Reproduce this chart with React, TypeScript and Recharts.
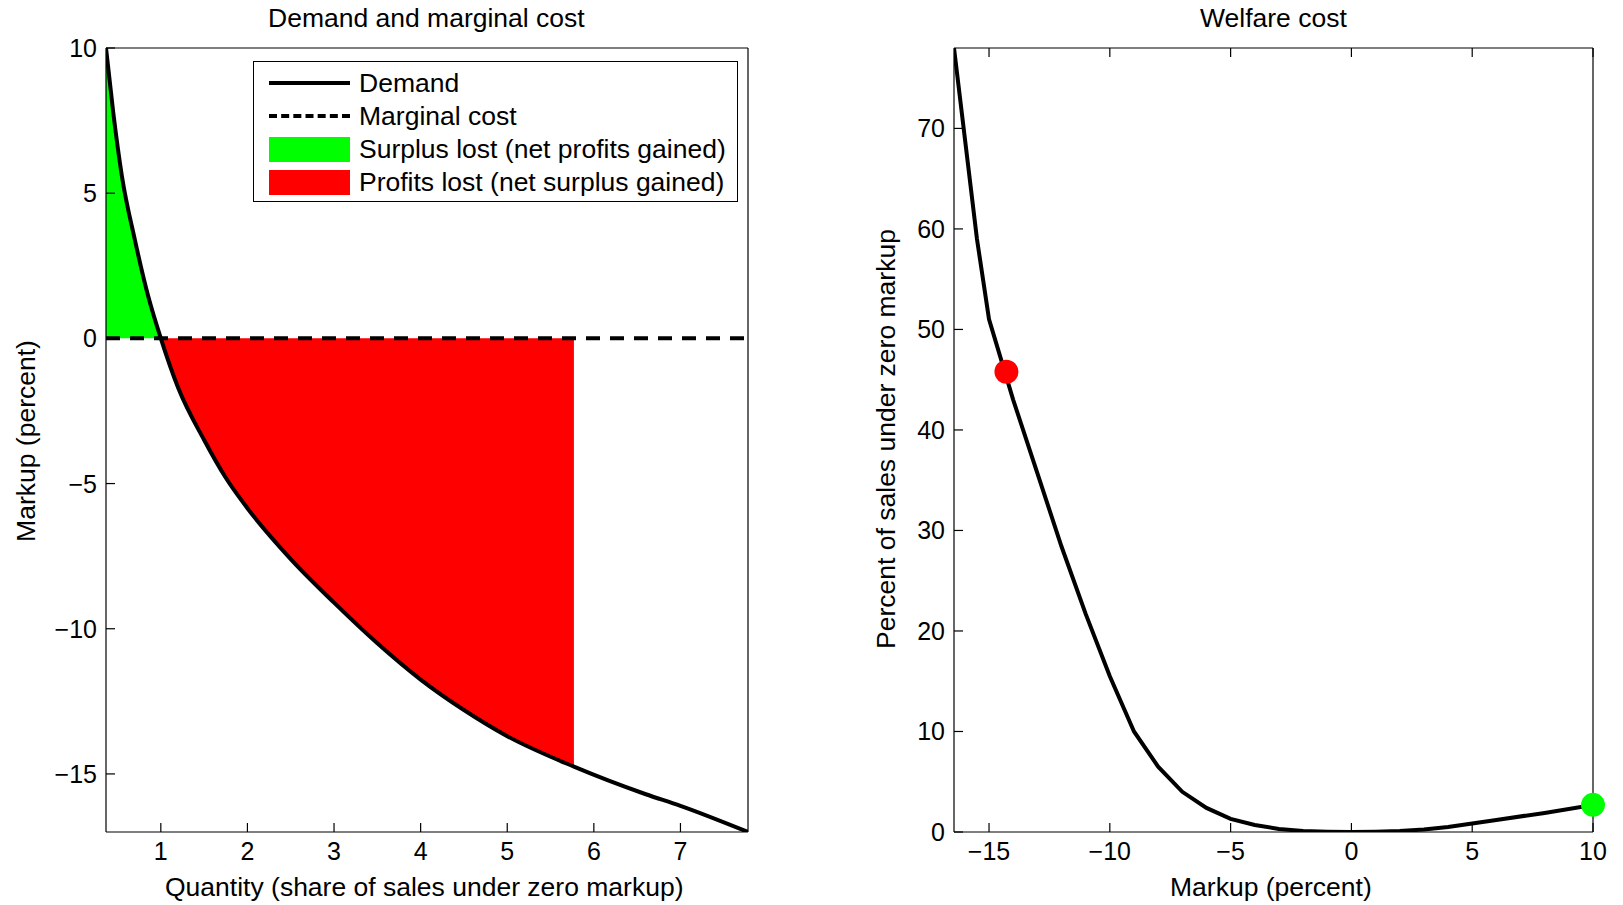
import { Area, ComposedChart, Line, ReferenceDot, ReferenceLine, XAxis, YAxis } from "recharts";

// demand curve: quantity vs markup
const demandQ = [0.367, 0.45, 0.55, 0.7, 0.85, 1.0, 1.2, 1.5, 1.75, 2.0, 2.5, 3.0, 3.5, 4.0, 4.5, 5.0, 5.77, 6.6, 7.0, 7.78];
const demandM = [10, 7.8, 5.6, 3.4, 1.5, 0, -1.7, -3.5, -4.8, -5.85, -7.6, -9.1, -10.5, -11.75, -12.8, -13.7, -14.75, -15.7, -16.1, -17];
const surplusEnd = 1.0;
const profitEnd = 5.77;
const qTicks = [1, 2, 3, 4, 5, 6, 7];
const mTicks = [-15, -10, -5, 0, 5, 10];

// welfare cost curve
const markup = [-16.45, -15.5, -15, -14, -13, -12, -11, -10, -9, -8, -7, -6, -5, -4, -3, -2, -1, 0, 1, 2, 3, 4, 6, 8, 10];
const welfare = [78, 59, 51, 43, 35.7, 28.4, 21.7, 15.5, 10, 6.5, 4, 2.4, 1.3, 0.7, 0.3, 0.1, 0.03, 0, 0.03, 0.1, 0.25, 0.5, 1.2, 1.9, 2.7];
const xTicks = [-15, -10, -5, 0, 5, 10];
const wTicks = [0, 10, 20, 30, 40, 50, 60, 70];
const redDot = { x: -14.28, y: 45.8 };
const greenDot = { x: 10, y: 2.7 };

const demandData = demandQ.map((q, i) => ({ q, m: demandM[i] }));
const greenData = demandData.filter((d) => d.q <= surplusEnd);
const redData = demandData.filter((d) => d.q >= surplusEnd && d.q <= profitEnd);
const welfareData = markup.map((x, i) => ({ x, w: welfare[i] }));

const font = "'Liberation Sans', Arial, sans-serif";
const axisLine = { stroke: "#000", strokeWidth: 1.2 };
const fmt = (v: number) => String(v).replace("-", "\u2212");
const TL = 9;
const FS = 25;

const bottomTick = (p: any) => (
  <g>
    <line x1={p.x} x2={p.x} y1={p.y} y2={p.y - TL} stroke="#000" strokeWidth={1.2} />
    <text x={p.x} y={p.y + 28} textAnchor="middle" fontSize={FS} fontFamily={font} fill="#000">{fmt(p.payload.value)}</text>
  </g>
);
const leftTick = (p: any) => (
  <g>
    <line x1={p.x} x2={p.x + TL} y1={p.y} y2={p.y} stroke="#000" strokeWidth={1.2} />
    <text x={p.x - 9} y={p.y + 9} textAnchor="end" fontSize={FS} fontFamily={font} fill="#000">{fmt(p.payload.value)}</text>
  </g>
);
const topTick = (p: any) => <line x1={p.x} x2={p.x} y1={p.y} y2={p.y + TL} stroke="#000" strokeWidth={1.2} />;
const rightTick = (p: any) => <line x1={p.x} x2={p.x - TL} y1={p.y} y2={p.y} stroke="#000" strokeWidth={1.2} />;

const label = (text: string, style: React.CSSProperties) => (
  <div style={{ position: "absolute", fontFamily: font, fontSize: 26.5, color: "#000", whiteSpace: "nowrap", ...style }}>{text}</div>
);

export default function App() {
  return (
    <div style={{ position: "absolute", left: 0, top: 0, width: 1623, height: 905, background: "#fff" }}>
      <div style={{ position: "absolute", left: 0, top: 0 }}>
        <ComposedChart width={790} height={900} margin={{ top: 47, right: 41, left: 0, bottom: 18 }}>
          <XAxis xAxisId="b" type="number" dataKey="q" domain={[0.367, 7.78]} ticks={qTicks} tick={bottomTick} tickSize={0} tickMargin={0} tickLine={false} axisLine={axisLine} height={50} allowDataOverflow />
          <XAxis xAxisId="t" orientation="top" type="number" domain={[0.367, 7.78]} ticks={qTicks} tick={topTick} tickSize={0} tickMargin={0} tickLine={false} axisLine={axisLine} height={1} />
          <YAxis yAxisId="l" type="number" domain={[-17, 10]} ticks={mTicks} tick={leftTick} tickSize={0} tickMargin={0} tickLine={false} axisLine={axisLine} width={106} allowDataOverflow />
          <YAxis yAxisId="r" orientation="right" type="number" domain={[-17, 10]} ticks={mTicks} tick={rightTick} tickSize={0} tickMargin={0} tickLine={false} axisLine={axisLine} width={1} />
          <Area xAxisId="b" yAxisId="l" data={greenData} dataKey="m" type="monotone" baseValue={0} fill="#00ff00" fillOpacity={1} stroke="none" isAnimationActive={false} />
          <Area xAxisId="b" yAxisId="l" data={redData} dataKey="m" type="monotone" baseValue={0} fill="#ff0000" fillOpacity={1} stroke="none" isAnimationActive={false} />
          <ReferenceLine xAxisId="b" yAxisId="l" y={0} stroke="#000" strokeWidth={4} strokeDasharray="14 10" />
          <Line xAxisId="b" yAxisId="l" data={demandData} dataKey="m" type="monotone" stroke="#000" strokeWidth={4} dot={false} isAnimationActive={false} />
        </ComposedChart>
      </div>
      {label("Demand and marginal cost", { left: 268, top: 3 })}
      {label("Quantity (share of sales under zero markup)", { left: 165, top: 872 })}
      {label("Markup (percent)", { left: 26, top: 441, transform: "translate(-50%, -50%) rotate(-90deg)", transformOrigin: "center" })}
      <div style={{ position: "absolute", left: 253, top: 61, width: 483, height: 139, border: "1.5px solid #000", background: "#fff", fontFamily: font, fontSize: 26.5 }}>
        {[
          { t: "Demand", kind: "solid" },
          { t: "Marginal cost", kind: "dash" },
          { t: "Surplus lost (net profits gained)", kind: "#00ff00" },
          { t: "Profits lost (net surplus gained)", kind: "#ff0000" },
        ].map((e, i) => (
          <div key={i} style={{ position: "absolute", left: 15, top: 6 + i * 33, height: 30, display: "flex", alignItems: "center" }}>
            <div style={{ width: 81, height: 30, display: "flex", alignItems: "center" }}>
              {e.kind === "solid" && <div style={{ width: 81, borderTop: "4px solid #000" }} />}
              {e.kind === "dash" && <div style={{ width: 81, borderTop: "4px dashed #000" }} />}
              {e.kind.startsWith("#") && <div style={{ width: 81, height: 25, background: e.kind }} />}
            </div>
            <span style={{ marginLeft: 9 }}>{e.t}</span>
          </div>
        ))}
      </div>

      <div style={{ position: "absolute", left: 848, top: 0 }}>
        <ComposedChart width={790} height={900} data={welfareData} margin={{ top: 47, right: 44, left: 0, bottom: 18 }}>
          <XAxis xAxisId="b" type="number" dataKey="x" domain={[-16.45, 10]} ticks={xTicks} tick={bottomTick} tickSize={0} tickMargin={0} tickLine={false} axisLine={axisLine} height={50} allowDataOverflow />
          <XAxis xAxisId="t" orientation="top" type="number" dataKey="x" domain={[-16.45, 10]} ticks={xTicks} tick={topTick} tickSize={0} tickMargin={0} tickLine={false} axisLine={axisLine} height={1} />
          <YAxis yAxisId="l" type="number" domain={[0, 78]} ticks={wTicks} tick={leftTick} tickSize={0} tickMargin={0} tickLine={false} axisLine={axisLine} width={106} allowDataOverflow />
          <YAxis yAxisId="r" orientation="right" type="number" domain={[0, 78]} ticks={wTicks} tick={rightTick} tickSize={0} tickMargin={0} tickLine={false} axisLine={axisLine} width={1} />
          <Line xAxisId="b" yAxisId="l" dataKey="w" type="linear" stroke="#000" strokeWidth={4} dot={false} isAnimationActive={false} />
          <ReferenceDot xAxisId="b" yAxisId="l" x={redDot.x} y={redDot.y} r={12} fill="#ff0000" stroke="none" ifOverflow="visible" />
          <ReferenceDot xAxisId="b" yAxisId="l" x={greenDot.x} y={greenDot.y} r={12} fill="#00ff00" stroke="none" ifOverflow="visible" />
        </ComposedChart>
      </div>
      {label("Welfare cost", { left: 1200, top: 3 })}
      {label("Markup (percent)", { left: 1170, top: 872 })}
      {label("Percent of sales under zero markup", { left: 886, top: 439, transform: "translate(-50%, -50%) rotate(-90deg)", transformOrigin: "center" })}
    </div>
  );
}
